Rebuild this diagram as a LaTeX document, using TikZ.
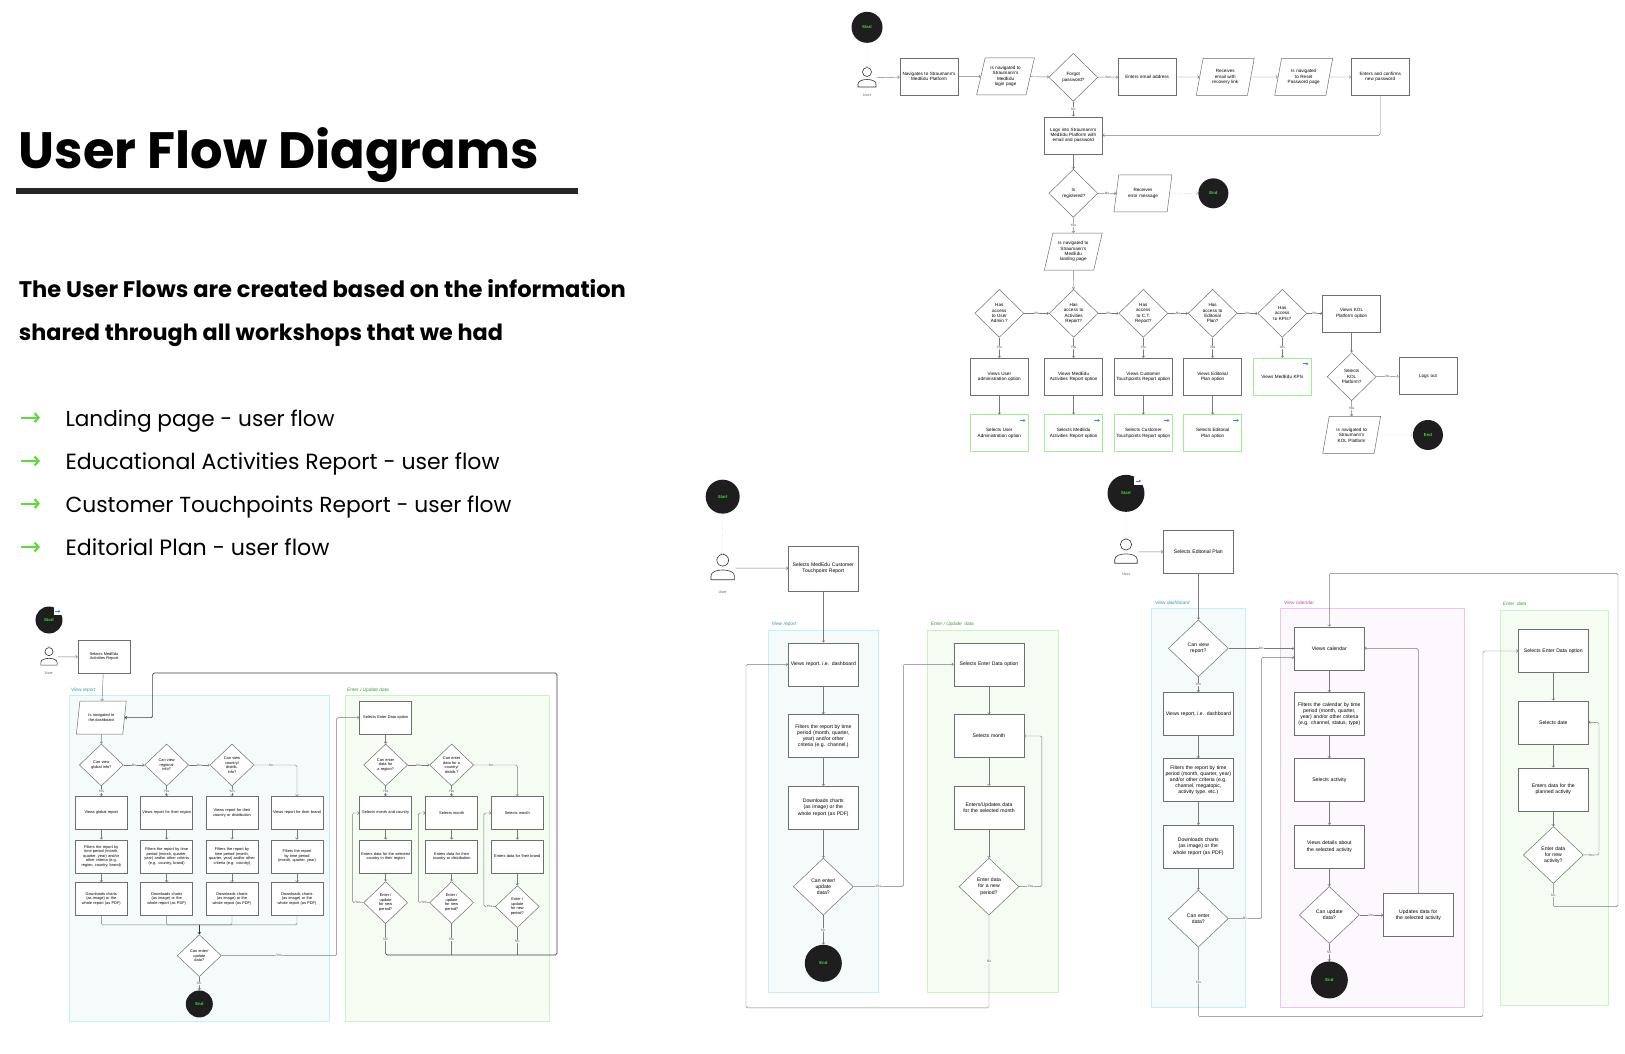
\documentclass[tikz,border=0pt]{standalone}
\usepackage{graphicx}
\usepackage{fontspec}
\setmainfont{Poppins}
\newfontfamily\lsans{Liberation Sans}
\usetikzlibrary{shapes.geometric,arrows.meta}
\definecolor{boxc}{HTML}{6E6E6E}
\definecolor{linec}{HTML}{7A7A7A}
\definecolor{grn}{HTML}{9EF08E}
\definecolor{termc}{HTML}{1E1E1E}
\definecolor{termt}{HTML}{3DDC2A}
\definecolor{blu}{HTML}{3B82F6}
\definecolor{arrg}{HTML}{5EDB3C}
\definecolor{cyB}{HTML}{BDF3F3}\definecolor{cyF}{HTML}{F5FBFB}\definecolor{cyT}{HTML}{2A9D9D}
\definecolor{gnB}{HTML}{C6F5BE}\definecolor{gnF}{HTML}{F5FDF3}\definecolor{gnT}{HTML}{3A9A3A}
\definecolor{vlB}{HTML}{EBC6EB}\definecolor{vlF}{HTML}{FDF8FD}\definecolor{vlT}{HTML}{C040C0}
\newcommand\nohy{\hyphenpenalty=10000\exhyphenpenalty=10000\relax}
\tikzset{
 fA/.style={font=\lsans\fontsize{4.6}{5.4}\selectfont\nohy},
 fB/.style={font=\lsans\fontsize{3.9}{4.6}\selectfont\nohy},
 fC/.style={font=\lsans\fontsize{5.1}{6.1}\selectfont\nohy},
 box/.style={rectangle,draw=boxc,line width=.5pt,fill=white,align=center,inner sep=1pt},
 b1/.style={box,fA,minimum width=58pt,minimum height=37pt,text width=54pt},
 g1/.style={b1,draw=grn,line width=.7pt},
 b2/.style={box,fB,minimum width=52pt,minimum height=33pt,text width=49pt},
 b3/.style={box,fC,minimum width=70pt,minimum height=43pt,text width=66pt},
 dia/.style={diamond,draw=boxc,line width=.5pt,fill=white,align=center,inner sep=0pt},
 d1/.style={dia,fA,minimum width=49pt,minimum height=48pt,text width=22pt},
 d2/.style={dia,fB,minimum width=44pt,minimum height=42pt,text width=21pt},
 d3/.style={dia,fC,minimum width=60pt,minimum height=57pt,text width=29pt},
 par/.style={trapezium,trapezium left angle=72,trapezium right angle=108,trapezium stretches=true,draw=boxc,line width=.5pt,fill=white,align=center,inner sep=0pt},
 p1/.style={par,fA,minimum width=58pt,minimum height=37pt,text width=32pt},
 p2/.style={par,fB,minimum width=50pt,minimum height=33pt,text width=30pt},
 term/.style={circle,fill=termc,text=termt,inner sep=0pt,font=\lsans\bfseries\fontsize{4.3}{4.3}\selectfont},
 arr/.style={draw=linec,line width=.45pt,-{Straight Barb[length=1.6pt,width=3pt]},rounded corners=1.5pt},
 ln/.style={draw=linec,line width=.45pt,rounded corners=1.5pt},
 dot/.style={draw=black!30,line width=.4pt,dotted,-{Straight Barb[length=1.6pt,width=3pt]}},
 lb/.style={fill=white,inner sep=.4pt,font=\lsans\fontsize{3.4}{3.4}\selectfont,text=black!70},
 reg/.style={line width=.5pt},
 rl/.style={anchor=south west,inner sep=0pt,font=\lsans\itshape\fontsize{4.8}{4.8}\selectfont},
 linkic/.style={rectangle,fill=white,minimum size=8pt,inner sep=0pt,
   path picture={\draw[blu,line width=.8pt,-{Stealth[length=2.2pt,width=3pt]}] ([xshift=-2.6pt]path picture bounding box.center) -- ([xshift=2.8pt]path picture bounding box.center);}},
 usr/.pic={\draw[black!80,line width=.6pt] (0,-6) circle (4.5);
   \draw[black!80,line width=.6pt] (-9,9) -- (-9,6) .. controls (-9,0) and (9,0) .. (9,6) -- (9,9) -- cycle;},
 ulab/.style={font=\lsans\fontsize{3.8}{3.8}\selectfont,text=black!60}
}
\begin{document}
\begin{tikzpicture}[x=1pt,y=-1pt]
\useasboundingbox (0,0) rectangle (1625,1054);
\fill[white] (0,0) rectangle (1625,1054);

% ---------- left text ----------
\node[anchor=base west,inner sep=0] at (18.7,168) {\resizebox{520pt}{!}{\bfseries User Flow Diagrams}};
\fill[black!85] (15.5,187.5) rectangle (578,194);
\node[anchor=base west,inner sep=0] at (18.7,297) {\resizebox{607pt}{!}{\bfseries The User Flows are created based on the information}};
\node[anchor=base west,inner sep=0] at (18.7,340) {\resizebox{484pt}{!}{\bfseries shared through all workshops that we had}};
\foreach \yy/\ww/\tt in {417.6/269/{Landing page - user flow},461/434/{Educational Activities Report - user flow},503.6/446/{Customer Touchpoints Report - user flow},547/264/{Editorial Plan - user flow}}{
  \draw[arrg,line width=2.2pt,-{Straight Barb[length=4pt,width=9pt]}] (21,\yy) -- (40,\yy);
  \node[anchor=base west,inner sep=0] at (65.3,\yy+8.5) {\resizebox{\ww pt}{!}{\tt}};
}

% ---------- user icons ----------
\node[minimum size=20pt] (u1) at (867,78) {};
\pic at (867,78) {usr}; \node[ulab] at (867,95) {User};
\node[minimum size=18pt] (u2) at (49,657) {};
\pic[scale=.9] at (49,657) {usr}; \node[ulab] at (49,673) {User};
\node[minimum size=26pt] (u3) at (722.7,568) {};
\pic[scale=1.3] at (722.7,568) {usr}; \node[ulab] at (722.7,592) {User};
\node[minimum size=25pt] (u4) at (1126,552) {};
\pic[scale=1.25] at (1126,552) {usr}; \node[ulab] at (1126,574.5) {User};

% ---------- Diagram 1 : landing page ----------
\begin{scope}[shift={(810,0)},x=0.3827pt,y=-0.3333pt]
\node[term,minimum size=31pt] (s1) at (149,82) {Start};
\node[b1] (a1) at (311,229) {Navigates to Straumann's MedEdu Platform};
\node[p1] (a2) at (511,229) {Is navigated to Straumann's MedEdu login page};
\node[d1] (a3) at (688,232) {Forgot password?};
\node[b1] (a4) at (881,231) {Enters email address};
\node[p1] (a5) at (1085,231) {Receives email with recovery link};
\node[p1] (a6) at (1290,231) {Is navigated to Reset Password page};
\node[b1] (a7) at (1490,231) {Enters and confirms new password};
\node[b1] (a8) at (688,406) {Logs into Straumann's MedEdu Platform with email and password};
\node[d1] (a9) at (688,580) {Is registered?};
\node[p1] (a10) at (870,580) {Receives error message};
\node[term,minimum size=30pt] (e1) at (1054,580) {End};
\node[p1] (a11) at (688,755) {Is navigated to Straumann's MedEdu landing page};
\draw[dot] (s1) -- (u1);
\draw[arr] (u1) -- (a1);
\draw[arr] (a1) -- (a2);
\draw[arr] (a2) -- (a3);
\draw[arr] (a3) -- node[lb]{Yes} (a4);
\draw[arr] (a4) -- (a5);
\draw[arr] (a5) -- (a6);
\draw[arr] (a6) -- (a7);
\draw[arr] (a3) -- node[lb]{No} (a8);
\draw[arr] (a7.south) |- (a8.east);
\draw[arr] (a8) -- (a9);
\draw[arr] (a9) -- node[lb]{No} (a10);
\draw[dot] (a10) -- (e1);
\draw[arr] (a9) -- node[lb]{Yes} (a11);
\end{scope}
\begin{scope}[shift={(920,270)},x=0.3333pt,y=-0.3333pt]
\node[d1] (c1) at (238,130) {Has access to User Admin.?};
\node[d1] (c2) at (461,130) {Has access to Activities Report?};
\node[d1] (c3) at (670,130) {Has access to C.T. Report?};
\node[d1] (c4) at (878,130) {Has access to Editorial Plan?};
\node[d1] (c5) at (1087,130) {Has access to KPIs?};
\node[b1] (k1) at (1295,130) {Views KOL Platform option};
\node[b1] (v1) at (238,320) {Views User administration option};
\node[b1] (v2) at (461,320) {Views MedEdu Activities Report option};
\node[b1] (v3) at (670,320) {Views Customer Touchpoints Report option};
\node[b1] (v4) at (878,320) {Views Editorial Plan option};
\node[g1] (v5) at (1087,320) {Views MedEdu KPIs};
\node[g1] (w1) at (238,490) {Selects User Administration option};
\node[g1] (w2) at (461,490) {Selects MedEdu Activities Report option};
\node[g1] (w3) at (670,490) {Selects Customer Touchpoints Report option};
\node[g1] (w4) at (878,490) {Selects Editorial Plan option};
\node[d1] (kd) at (1295,320) {Selects KOL Platform?};
\node[b1] (lo) at (1524,318) {Logs out};
\node[p1] (kp) at (1295,495) {Is navigated to Straumann's KOL Platform};
\node[term,minimum size=30pt] (e2) at (1524,495) {End};
\draw[arr] (a11) -- (c2);
\draw[arr] (c1) -- node[lb]{No} (c2);
\draw[arr] (c2) -- node[lb]{No} (c3);
\draw[arr] (c3) -- node[lb]{No} (c4);
\draw[arr] (c4) -- node[lb]{No} (c5);
\draw[arr] (c5) -- node[lb]{No} (k1);
\draw[arr] (c1) -- node[lb]{Yes} (v1);
\draw[arr] (c2) -- node[lb]{Yes} (v2);
\draw[arr] (c3) -- node[lb]{Yes} (v3);
\draw[arr] (c4) -- node[lb]{Yes} (v4);
\draw[arr] (c5) -- node[lb]{Yes} (v5);
\draw[arr] (v1) -- (w1);
\draw[arr] (v2) -- (w2);
\draw[arr] (v3) -- (w3);
\draw[arr] (v4) -- (w4);
\draw[arr] (k1) -- (kd);
\draw[arr] (kd) -- node[lb]{No} (lo);
\draw[arr] (kd) -- node[lb]{Yes} (kp);
\draw[dot] (kp) -- (e2);
\end{scope}

% ---------- Diagram 2 : activities report ----------
\draw[reg,draw=cyB,fill=cyF] (69.3,695.7) rectangle (329.5,1021);
\draw[reg,draw=gnB,fill=gnF] (345,695.7) rectangle (549,1021);
\node[rl,text=cyT] at (71,693) {View report};
\node[rl,text=gnT] at (347,693) {Enter / Update data};
\begin{scope}[shift={(30,580)},x=0.3333pt,y=-0.3333pt]
\node[term,minimum size=27pt] (s2) at (57,120) {Start};
\node[b2] (m0) at (222,230) {Selects MedEdu Activities Report};
\node[p2] (m1) at (214,413) {Is navigated to the dashboard};
\node[d2] (q1) at (214,555) {Can view global info?};
\node[d2] (q2) at (410,555) {Can view regional info?};
\node[d2] (q3) at (606,555) {Can view country/ distrib. info?};
\node[b2] (r11) at (214,699) {Views global report};
\node[b2] (r12) at (214,829) {Filters the report by time period (month, quarter, year) and/or other criteria (e.g. region, country, brand)};
\node[b2] (r13) at (214,957) {Downloads charts (as image) or the whole report (as PDF)};
\node[b2] (r21) at (410,699) {Views report for their region};
\node[b2] (r22) at (410,829) {Filters the report by time period (month, quarter, year) and/or other criteria (e.g. country, brand)};
\node[b2] (r23) at (410,957) {Downloads charts (as image) or the whole report (as PDF)};
\node[b2] (r31) at (606,699) {Views report for their country or distribution};
\node[b2] (r32) at (606,829) {Filters the report by time period (month, quarter, year) and/or other criteria (e.g. country)};
\node[b2] (r33) at (606,957) {Downloads charts (as image) or the whole report (as PDF)};
\node[b2] (r41) at (801,699) {Views report for their brand};
\node[b2] (r42) at (801,829) {Filters the report by time period (month, quarter, year)};
\node[b2] (r43) at (801,957) {Downloads charts (as image) or the whole report (as PDF)};
\node[d2] (qd) at (508,1127) {Can enter/ update data?};
\node[term,minimum size=27pt] (e3) at (508,1272) {End};
\node[b2] (t0) at (1067,413) {Selects Enter Data option};
\node[d2] (h1) at (1067,555) {Can enter data for a region?};
\node[d2] (h2) at (1265,555) {Can enter data for a country/ distrib.?};
\node[b2] (x1) at (1067,699) {Selects month and country};
\node[b2] (x2) at (1265,699) {Selects month};
\node[b2] (x3) at (1462,699) {Selects month};
\node[b2] (y1) at (1067,829) {Enters data for the selected country in their region};
\node[b2] (y2) at (1265,829) {Enters data for their country or distribution};
\node[b2] (y3) at (1462,829) {Enters data for their brand};
\node[d2] (z1) at (1067,968) {Enter / update for new period?};
\node[d2] (z2) at (1265,968) {Enter / update for new period?};
\node[d2] (z3) at (1462,980) {Enter / update for new period?};
\coordinate (j) at (508,1035);
\draw[dot] (s2) -- (u2);
\draw[arr] (u2) -- (m0);
\draw[arr] (m0) -- (m1);
\draw[arr] (m1) -- (q1);
\draw[arr] (q1) -- node[lb]{No} (q2);
\draw[arr] (q2) -- node[lb]{No} (q3);
\draw[arr] (q3) -| node[lb,pos=.2]{No} (r41);
\draw[arr] (q1) -- node[lb]{Yes} (r11);
\draw[arr] (q2) -- node[lb]{Yes} (r21);
\draw[arr] (q3) -- node[lb]{Yes} (r31);
\foreach \c in {1,2,3,4}{\draw[arr] (r\c1) -- (r\c2); \draw[arr] (r\c2) -- (r\c3);}
\draw[ln] (r13.south) |- (j); \draw[ln] (r43.south) |- (j);
\draw[ln] (r23.south) |- (j); \draw[ln] (r33.south) |- (j);
\draw[arr,draw=black!80,line width=.6pt] (j) -- (qd);
\draw[arr] (qd) -- node[lb]{No} (e3);
\draw[arr] (qd.east) -- node[lb]{Yes} (920,1127) |- (t0.west);
\draw[arr] (t0) -- (h1);
\draw[arr] (h1) -- node[lb]{No} (h2);
\draw[arr] (h2) -| node[lb,pos=.2]{No} (x3);
\draw[arr] (h1) -- node[lb]{Yes} (x1);
\draw[arr] (h2) -- node[lb]{Yes} (x2);
\draw[arr] (x1) -- (y1); \draw[arr] (y1) -- (z1);
\draw[arr] (x2) -- (y2); \draw[arr] (y2) -- (z2);
\draw[arr] (x3) -- (y3); \draw[arr] (y3) -- (z3);
\draw[arr] (z1.west) -- node[lb]{Yes} (968,968) |- (x1.west);
\draw[arr] (z2.west) -- node[lb]{Yes} (1165,968) |- (x2.west);
\draw[arr] (z3.west) -- node[lb]{Yes} (1362,980) |- (x3.west);
\draw[ln] (z2.south) -- node[lb]{No} (1265,1125);
\draw[ln] (z3.south) -- node[lb]{No} (1462,1125);
\draw[arr,draw=black!75,line width=.65pt] (z1.south) -- node[lb]{No} (1067,1125) -- (1581,1125) -- (1581,279) -- (368,279) |- (m1.east);
\end{scope}

% ---------- Diagram 3 : customer touchpoints ----------
\begin{scope}[shift={(670,460)},x=0.3333pt,y=-0.3333pt]
\draw[reg,draw=cyB,fill=cyF] (295,512) rectangle (625,1597);
\draw[reg,draw=gnB,fill=gnF] (772,512) rectangle (1166,1597);
\node[rl,text=cyT] at (305,500) {View report};
\node[rl,text=gnT] at (782,500) {Enter / Update\ \ data};
\node[term,minimum size=34pt] (s3) at (158,110) {Start};
\node[b3,minimum height=45pt] (n0) at (460,325) {Selects MedEdu Customer Touchpoint Report};
\node[b3] (n1) at (460,613) {Views report, i.e. dashboard};
\node[b3] (n2) at (460,828) {Filters the report by time period (month, quarter, year) and/or other criteria (e.g. channel.)};
\node[b3] (n3) at (460,1043) {Downloads charts (as image) or the whole report (as PDF)};
\node[d3] (nd) at (460,1280) {Can enter/ update data?};
\node[term,minimum size=37pt] (e4) at (460,1510) {End};
\node[b3] (o1) at (957,613) {Selects Enter Data option};
\node[b3] (o2) at (957,828) {Selects month};
\node[b3] (o3) at (957,1043) {Enters/Updates data for the selected month};
\node[d3] (od) at (957,1280) {Enter data for a new period?};
\draw[dot] (s3) -- (u3);
\draw[arr] (u3) -- (n0);
\draw[arr] (n0) -- (n1);
\draw[arr] (n1) -- (n2); \draw[arr] (n2) -- (n3); \draw[arr] (n3) -- (nd);
\draw[arr] (nd) -- node[lb]{No} (e4);
\draw[arr] (nd.east) -- node[lb]{Yes} (700,1280) |- (o1.west);
\draw[arr] (o1) -- (o2); \draw[arr] (o2) -- (o3); \draw[arr] (o3) -- (od);
\draw[arr] (od.east) -- node[lb]{Yes} (1116,1280) |- (o2.east);
\draw[arr] (od.south) -- node[lb]{No} (957,1644) -- (228,1644) |- (n1.west);
\end{scope}

% ---------- Diagram 4 : editorial plan ----------
\begin{scope}[shift={(1060,460)},x=0.3333pt,y=-0.3333pt]
\draw[reg,draw=cyB,fill=cyF] (275,445) rectangle (557,1641);
\draw[reg,draw=vlB,fill=vlF] (662,445) rectangle (1213,1641);
\node[rl,text=cyT] at (285,433) {View dashboard};
\node[rl,text=vlT] at (672,433) {View calendar};
\end{scope}
\begin{scope}[shift={(1400,540)},x=0.3333pt,y=-0.3333pt]
\draw[reg,draw=gnB,fill=gnF] (300,210) rectangle (625,1395);
\node[rl,text=gnT] at (308,198) {Enter\ \ data};
\node[b3] (k1) at (460,333) {Selects Enter Data option};
\node[b3] (k2) at (460,547) {Selects date};
\node[b3] (k3) at (460,748) {Enters data for the planned activity};
\node[d3] (kd) at (460,945) {Enter data for new activity?};
\draw[arr] (k1) -- (k2); \draw[arr] (k2) -- (k3); \draw[arr] (k3) -- (kd);
\draw[arr] (kd.east) -- node[lb]{Yes} (597,945) |- (k2.east);
\end{scope}
\begin{scope}[shift={(1060,460)},x=0.3333pt,y=-0.3333pt]
\node[term,minimum size=37pt] (s4) at (198,100) {Start};
\node[b3] (f0) at (415,275) {Selects Editorial Plan};
\node[d3] (fd) at (415,565) {Can view report?};
\node[b3] (f1) at (415,762) {Views report, i.e. dashboard};
\node[b3] (f2) at (415,960) {Filters the report by time period (month, quarter, year) and/or other criteria (e.g. channel, megatopic, activity type, etc.)};
\node[b3] (f3) at (415,1160) {Downloads charts (as image) or the whole report (as PDF)};
\node[d3] (fe) at (415,1376) {Can enter data?};
\node[b3] (g1) at (808,565) {Views calendar};
\node[b3] (g2) at (808,762) {Filters the calendar by time period (month, quarter, year) and/or other criteria (e.g. channel, status, type)};
\node[b3] (g3) at (808,960) {Selects activity};
\node[b3] (g4) at (808,1160) {Views details about the selected activity};
\node[d3] (gd) at (808,1365) {Can update data?};
\node[term,minimum size=37pt] (e5) at (808,1560) {End};
\node[b3] (gu) at (1075,1365) {Updates data for the selected activity};
\draw[dot] (s4) -- (u4);
\draw[arr] (u4) -- (f0);
\draw[arr] (f0) -- (fd);
\draw[arr] (fd) -- node[lb]{No} (g1);
\draw[arr] (fd) -- node[lb]{Yes} (f1);
\draw[arr] (f1) -- (f2); \draw[arr] (f2) -- (f3); \draw[arr] (f3) -- (fe);
\draw[arr] (fe.east) -- node[lb]{No} (605,1376) -- (605,592) -- (703,592);
\draw[arr] (g1) -- (g2); \draw[arr] (g2) -- (g3); \draw[arr] (g3) -- (g4); \draw[arr] (g4) -- (gd);
\draw[arr] (gd) -- node[lb]{Yes} (gu);
\draw[arr] (gd) -- node[lb]{No} (e5);
\draw[arr] (gu.north) |- (g1.east);
\end{scope}
\draw[arr] (fe.south) -- node[lb]{Yes} (1198.3,1016.7) -- (1483,1016.7) |- (k1.west);
\draw[arr] (kd.south) -- node[lb]{No} (1553.3,906.7) -- (1618,906.7) -- (1618,573.3) -| (g1.north);

% ---------- link icons ----------
\foreach \n in {w1,w2,w3,w4,v5}{\node[linkic] at ([xshift=-6pt,yshift=-6pt]\n.north east) {};}
\node[linkic] at ([xshift=-1pt,yshift=-1pt]s2.north east) {};
\node[linkic] at ([xshift=-1pt,yshift=-1pt]s4.north east) {};
\end{tikzpicture}
\end{document}
